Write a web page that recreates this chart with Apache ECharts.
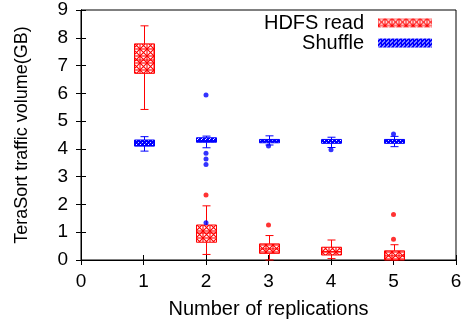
<!DOCTYPE html>
<html>
<head>
<meta charset="utf-8">
<script src="https://cdn.jsdelivr.net/npm/echarts@6/dist/echarts.min.js"></script>
<style>html,body{margin:0;padding:0;background:#fff}#c{width:466px;height:328px}</style>
</head>
<body>
<div id="c"></div>
<script>
// ---- data ----
var xTicks = [0, 1, 2, 3, 4, 5, 6];
var yTicks = [0, 1, 2, 3, 4, 5, 6, 7, 8, 9];
var replications = [1, 2, 3, 4, 5];

var hdfsMin = [5.42, 0.20, 0.00, 0.05, 0.00];
var hdfsQ1  = [6.72, 0.64, 0.24, 0.18, 0.00];
var hdfsMed = [7.20, 0.97, 0.40, 0.30, 0.15];
var hdfsQ3  = [7.78, 1.26, 0.58, 0.46, 0.33];
var hdfsMax = [8.43, 1.95, 0.88, 0.72, 0.55];
var hdfsOutX = [2, 3, 5, 5];
var hdfsOutY = [2.34, 1.26, 1.64, 0.75];

var shufMin = [3.92, 4.04, 4.14, 4.05, 4.08];
var shufQ1  = [4.10, 4.24, 4.22, 4.20, 4.20];
var shufMed = [4.20, 4.30, 4.28, 4.26, 4.27];
var shufQ3  = [4.32, 4.40, 4.34, 4.34, 4.34];
var shufMax = [4.44, 4.46, 4.47, 4.42, 4.45];
var shufOutX = [2, 2, 2, 2, 2, 3, 4, 5];
var shufOutY = [5.94, 3.84, 3.64, 3.44, 1.34, 4.10, 3.97, 4.54];

// ---- patterns ----
function makePattern(kind) {
  var c = document.createElement('canvas');
  var ctx = c.getContext('2d');
  if (kind === 'hdfs') {
    c.width = 7; c.height = 7;
    ctx.fillStyle = '#fff'; ctx.fillRect(0, 0, 7, 7);
    ctx.strokeStyle = '#ff0000'; ctx.lineWidth = 1.1;
    ctx.beginPath();
    ctx.moveTo(0, 0); ctx.lineTo(7, 7);
    ctx.moveTo(7, 0); ctx.lineTo(0, 7);
    ctx.stroke();
    ctx.strokeRect(0, 0, 7, 7);
  } else {
    c.width = 4; c.height = 4;
    ctx.fillStyle = '#0000ff'; ctx.fillRect(0, 0, 4, 4);
    ctx.fillStyle = '#fff';
    ctx.fillRect(0, 0, 1, 1);
    ctx.fillRect(2, 2, 1, 1);
    ctx.fillRect(1, 3, 1, 1);
  }
  return { image: c, repeat: 'repeat' };
}
var hdfsPattern = makePattern('hdfs');
var shufPattern = makePattern('shuf');

function zipBox(xs, a, b, c, d, e) {
  return xs.map(function (x, i) { return [x, a[i], b[i], c[i], d[i], e[i]]; });
}
function zipPts(xs, ys) { return xs.map(function (x, i) { return [x, ys[i]]; }); }

function boxRenderer(color, pattern) {
  return function (params, api) {
    var x = api.value(0);
    var pMin = api.coord([x, api.value(1)]);
    var pQ1 = api.coord([x, api.value(2)]);
    var pMed = api.coord([x, api.value(3)]);
    var pQ3 = api.coord([x, api.value(4)]);
    var pMax = api.coord([x, api.value(5)]);
    var cx = Math.round(pMin[0]) + 0.5;
    var hw = 10, cw = 4;
    var ls = { stroke: color, lineWidth: 1 };
    return {
      type: 'group',
      children: [
        { type: 'line', shape: { x1: cx, y1: pMin[1], x2: cx, y2: pQ1[1] }, style: ls },
        { type: 'line', shape: { x1: cx, y1: pQ3[1], x2: cx, y2: pMax[1] }, style: ls },
        { type: 'line', shape: { x1: cx - cw, y1: pMin[1], x2: cx + cw, y2: pMin[1] }, style: ls },
        { type: 'line', shape: { x1: cx - cw, y1: pMax[1], x2: cx + cw, y2: pMax[1] }, style: ls },
        { type: 'rect', shape: { x: cx - hw, y: pQ3[1], width: 2 * hw, height: pQ1[1] - pQ3[1] },
          style: { fill: pattern, stroke: color, lineWidth: 1 } },
        { type: 'line', shape: { x1: cx - hw, y1: pMed[1], x2: cx + hw, y2: pMed[1] }, style: ls }
      ]
    };
  };
}

var font = 'Liberation Sans, Arial, Helvetica, sans-serif';
var chart = echarts.init(document.getElementById('c'), null, { renderer: 'canvas' });
chart.setOption({
  animation: false,
  backgroundColor: '#fff',
  grid: { left: 81, right: 10, top: 10, bottom: 68, show: true, borderColor: '#000', borderWidth: 1 },
  legend: {
    orient: 'vertical', right: 29, top: 8, align: 'right', icon: 'rect',
    itemWidth: 54, itemHeight: 9, itemGap: 0,
    textStyle: { fontFamily: font, fontSize: 20, color: '#000', padding: [0, 9, 0, 0] },
    data: [
      { name: 'HDFS read', itemStyle: { color: hdfsPattern, borderWidth: 0 } },
      { name: 'Shuffle', itemStyle: { color: shufPattern, borderWidth: 0 } }
    ]
  },
  xAxis: [{
    type: 'value', min: xTicks[0], max: xTicks[xTicks.length - 1], interval: 1,
    name: 'Number of replications', nameLocation: 'middle', nameGap: 39,
    nameTextStyle: { fontFamily: font, fontSize: 20, color: '#000' },
    axisLine: { lineStyle: { color: '#000' } },
    axisTick: { inside: true, length: 5, lineStyle: { color: '#000' } },
    axisLabel: { fontFamily: font, fontSize: 19, color: '#000', margin: 12 },
    splitLine: { show: false }
  }, {
    type: 'value', position: 'top', min: xTicks[0], max: xTicks[xTicks.length - 1], interval: 1,
    axisLine: { lineStyle: { color: '#000' } },
    axisTick: { inside: true, length: 5, lineStyle: { color: '#000' } },
    axisLabel: { show: false }, splitLine: { show: false }
  }],
  yAxis: [{
    type: 'value', min: yTicks[0], max: yTicks[yTicks.length - 1], interval: 1,
    name: 'TeraSort traffic volume(GB)', nameLocation: 'middle', nameGap: 50,
    nameTextStyle: { fontFamily: font, fontSize: 18, color: '#000' },
    axisLine: { show: true, lineStyle: { color: '#000' } },
    axisTick: { show: true, inside: true, length: 5, lineStyle: { color: '#000' } },
    axisLabel: { fontFamily: font, fontSize: 19, color: '#000', margin: 13 },
    splitLine: { show: false }
  }, {
    type: 'value', position: 'right', min: yTicks[0], max: yTicks[yTicks.length - 1], interval: 1,
    axisLine: { show: true, lineStyle: { color: '#000' } },
    axisTick: { show: true, inside: true, length: 5, lineStyle: { color: '#000' } },
    axisLabel: { show: false }, splitLine: { show: false }
  }],
  series: [{
    name: 'HDFS read', type: 'custom',
    renderItem: boxRenderer('#ff0000', hdfsPattern),
    encode: { x: 0, y: [1, 2, 3, 4, 5] },
    itemStyle: { color: hdfsPattern },
    data: zipBox(replications, hdfsMin, hdfsQ1, hdfsMed, hdfsQ3, hdfsMax), z: 3
  }, {
    name: 'Shuffle', type: 'custom',
    renderItem: boxRenderer('#0000ff', shufPattern),
    encode: { x: 0, y: [1, 2, 3, 4, 5] },
    itemStyle: { color: shufPattern },
    data: zipBox(replications, shufMin, shufQ1, shufMed, shufQ3, shufMax), z: 3
  }, {
    name: 'HDFS read', type: 'scatter', symbol: 'circle', symbolSize: 5,
    itemStyle: { color: '#ff0000' }, data: zipPts(hdfsOutX, hdfsOutY), z: 4
  }, {
    name: 'Shuffle', type: 'scatter', symbol: 'circle', symbolSize: 5,
    itemStyle: { color: '#0000ff' }, data: zipPts(shufOutX, shufOutY), z: 4
  }]
});
</script>
</body>
</html>
